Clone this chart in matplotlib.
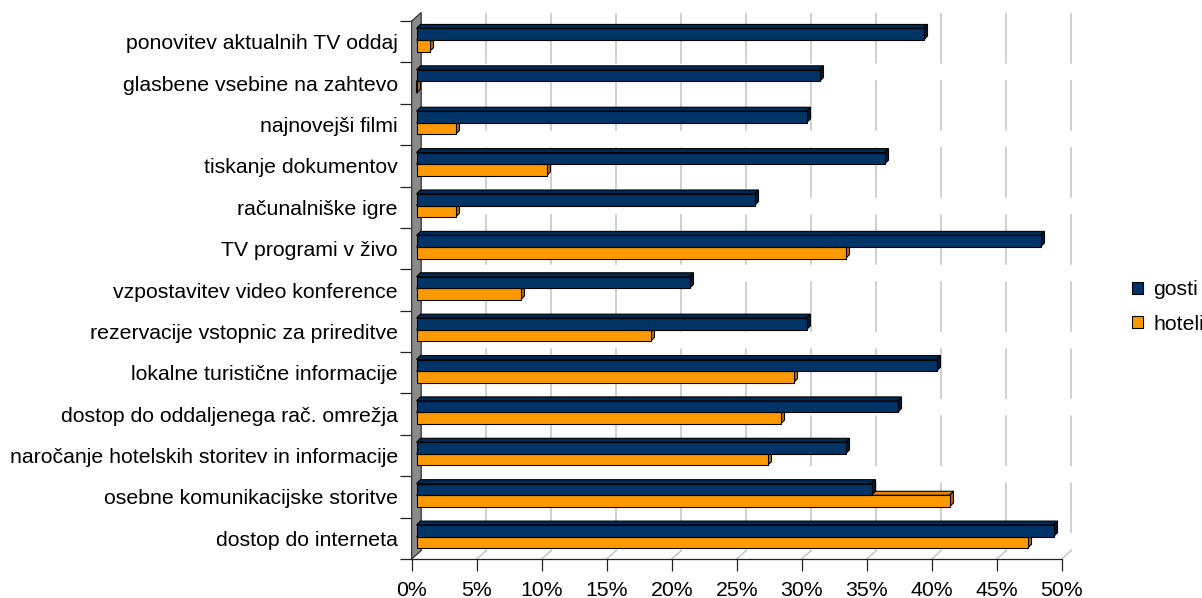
import matplotlib.pyplot as plt
import numpy as np
from matplotlib.patches import Polygon
from matplotlib.lines import Line2D
from matplotlib.transforms import IdentityTransform, offset_copy

plt.rcParams['font.family'] = ['Liberation Sans', 'DejaVu Sans']

categories = [
    'ponovitev aktualnih TV oddaj',
    'glasbene vsebine na zahtevo',
    'najnovejši filmi',
    'tiskanje dokumentov',
    'računalniške igre',
    'TV programi v živo',
    'vzpostavitev video konference',
    'rezervacije vstopnic za prireditve',
    'lokalne turistične informacije',
    'dostop do oddaljenega rač. omrežja',
    'naročanje hotelskih storitev in informacije',
    'osebne komunikacijske storitve',
    'dostop do interneta',
]
gosti = [39, 31, 30, 36, 26, 48, 21, 30, 40, 37, 33, 35, 49]
hoteli = [1, 0, 3, 10, 3, 33, 8, 18, 29, 28, 27, 41, 47]
x_ticks = [0, 5, 10, 15, 20, 25, 30, 35, 40, 45, 50]
x_labels = ['%d%%' % t for t in x_ticks]

FS = 15.3

# pixel offsets for the fake 3d look
WALL_D = np.array([9.5, 8.5])   # depth of the back wall
BAR_D = np.array([4.0, 4.0])    # depth of each bar
BAR_SHIFT = 4.8                 # bars sit a bit behind the front plane
BAR_H = 0.28

series = [
    ('hoteli', hoteli, 0.60, '#ff9900', '#e08600', '#b36b00'),
    ('gosti', gosti, 0.32, '#003366', '#002a55', '#001a33'),
]

fig = plt.figure(figsize=(12.02, 5.98), dpi=100)
ax = fig.add_axes([411.7 / 1202, 39 / 598, 650 / 1202, 538 / 598])
ax.set_xlim(0, 50)
ax.set_ylim(len(categories), 0)
ax.patch.set_visible(False)
for s in ['top', 'right', 'left']:
    ax.spines[s].set_visible(False)
ax.spines['bottom'].set_color('#222222')
ax.spines['bottom'].set_linewidth(0.9)

ax.set_xticks(x_ticks)
ax.set_xticklabels(x_labels, fontsize=FS)
ax.tick_params(axis='x', direction='out', length=8.6, width=0.9, color='#222222', pad=7)
ax.set_yticks(np.arange(len(categories)) + 0.5)
ax.set_yticklabels(categories, fontsize=FS)
ax.set_yticks(np.arange(len(categories) + 1), minor=True)
ax.tick_params(axis='y', which='major', length=0, pad=10)
ax.tick_params(axis='y', which='minor', direction='out', length=8.6, width=0.9, color='#222222')

px = IdentityTransform()


def to_px(x, y):
    return ax.transData.transform((x, y))


# back wall on the left
y_lo, y_hi = len(categories), 0
p0, p1 = to_px(0, y_lo), to_px(0, y_hi)
ax.add_patch(Polygon([p0, p1, p1 + WALL_D, p0 + WALL_D], closed=True,
                     facecolor='#8a8a8a', edgecolor='#333333', linewidth=0.9,
                     transform=px, clip_on=False, zorder=2))

# back gridlines and floor lines
for t in x_ticks[1:]:
    a, b = to_px(t, y_lo), to_px(t, y_hi)
    top, bot = b + WALL_D, a + WALL_D
    ax.add_line(Line2D([top[0], bot[0]], [top[1], bot[1]], transform=px,
                       color='#c4c4c4', linewidth=1.1, linestyle=(0, (33.1, 10.8)),
                       clip_on=False, zorder=1))
    ax.add_line(Line2D([a[0], bot[0]], [a[1], bot[1]], transform=px,
                       color='#c4c4c4', linewidth=1.0, clip_on=False, zorder=1))

# bars: front face, top face and right side face
bar_tr = offset_copy(ax.transData, fig=fig, x=BAR_SHIFT, y=0, units='dots')
for z, (name, vals, off, c_front, c_top, c_side) in enumerate(series):
    ys = np.arange(len(categories)) + off
    ax.barh(ys, vals, height=BAR_H, color=c_front, edgecolor='black',
            linewidth=0.8, transform=bar_tr, zorder=4 + 2 * z, label=name)
    for y, v in zip(ys, vals):
        yt, yb = y - BAR_H / 2, y + BAR_H / 2
        a = to_px(0, yt) + [BAR_SHIFT, 0]
        b = to_px(v, yt) + [BAR_SHIFT, 0]
        c = to_px(v, yb) + [BAR_SHIFT, 0]
        ax.add_patch(Polygon([a, b, b + BAR_D, a + BAR_D], closed=True,
                             facecolor=c_top, edgecolor='black', linewidth=0.8,
                             transform=px, clip_on=False, zorder=3 + 2 * z))
        ax.add_patch(Polygon([b, c, c + BAR_D, b + BAR_D], closed=True,
                             facecolor=c_side, edgecolor='black', linewidth=0.8,
                             transform=px, clip_on=False, zorder=3 + 2 * z))

handles, labels = ax.get_legend_handles_labels()
fig.legend(handles[::-1], labels[::-1], loc='center left',
           bbox_to_anchor=(1113 / 1202, 1 - 307 / 598), frameon=False,
           fontsize=FS, handlelength=0.5, handleheight=0.5,
           handletextpad=0.5, labelspacing=0.72)

fig.savefig('out.png', dpi=100)
